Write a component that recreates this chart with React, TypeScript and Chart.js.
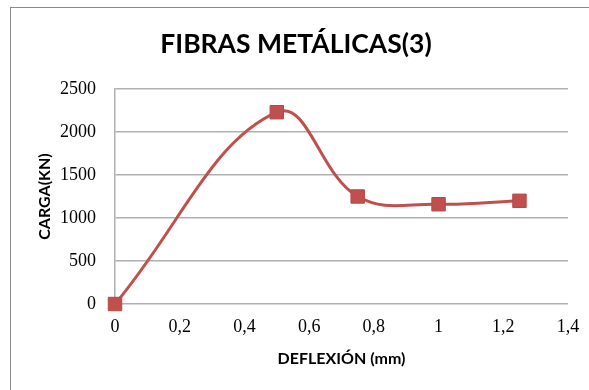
import React, { useEffect, useRef } from "react";
import { Chart, registerables } from "chart.js";

Chart.register(...registerables);

const deflexion = [0, 0.5, 0.75, 1, 1.25];
const carga = [0, 2230, 1250, 1160, 1200];
const titleText = "FIBRAS METÁLICAS(3)";
const xTitle = "DEFLEXIÓN (mm)";
const yTitle = "CARGA(KN)";

const fmt = (v: number) => parseFloat(Number(v).toFixed(2)).toString().replace(".", ",");

export default function App() {
  const ref = useRef<HTMLCanvasElement | null>(null);
  useEffect(() => {
    if (!ref.current) return;
    const chart = new Chart(ref.current, {
      type: "line",
      data: {
        datasets: [
          {
            data: deflexion.map((x, i) => ({ x, y: carga[i] })),
            borderColor: "#C0504D",
            backgroundColor: "#C0504D",
            borderWidth: 3,
            tension: 0.4,
            pointStyle: "rect",
            pointRadius: 9.5,
            pointBorderWidth: 1,
            pointBorderColor: "#B94744",
            pointBackgroundColor: "#C0504D",
            clip: false as any,
          },
        ],
      },
      options: {
        animation: false,
        responsive: false,
        layout: { padding: { left: 24, right: 21, top: 0, bottom: 0 } },
        plugins: {
          legend: { display: false },
          tooltip: { enabled: false },
          title: {
            display: true,
            text: titleText,
            color: "#000000",
            font: { family: "Lato", size: 26.5, weight: "bold" },
            padding: { top: 28.4, bottom: 28.8 },
          },
        },
        scales: {
          x: {
            type: "linear",
            min: 0,
            max: 1.4,
            afterFit: (s: any) => {
              s.height = 86;
              s.paddingLeft = 0;
              s.paddingRight = 0;
            },
            ticks: {
              stepSize: 0.2,
              callback: (v: any) => fmt(v),
              color: "#000000",
              font: { family: "Liberation Serif", size: 18 },
              padding: 12,
              maxRotation: 0,
            },
            grid: { display: false, drawTicks: false },
            border: { display: false },
            title: {
              display: true,
              text: xTitle,
              color: "#000000",
              font: { family: "Lato", size: 16, weight: "bold" },
              padding: { top: 0, bottom: 22 },
            },
          },
          y: {
            type: "linear",
            min: 0,
            max: 2500,
            afterFit: (s: any) => {
              s.width = 91;
            },
            ticks: {
              stepSize: 500,
              callback: (v: any) => fmt(v),
              color: "#000000",
              font: { family: "Liberation Serif", size: 18 },
              padding: 19,
            },
            grid: { color: "#b0b0b0", lineWidth: 1.5, drawTicks: false },
            border: { display: true, color: "#b0b0b0", width: 1.5 },
            title: {
              display: true,
              text: yTitle,
              color: "#000000",
              font: { family: "Lato", size: 16, weight: "bold" },
              padding: { top: 11.4, bottom: 0 },
            },
          },
        },
      },
    });
    return () => chart.destroy();
  }, []);

  return (
    <div style={{ position: "fixed", left: 0, top: 0, width: 589, height: 390, background: "#fff", overflow: "hidden" }}>
      <div
        style={{
          position: "absolute",
          left: 10,
          top: 7,
          width: 600,
          height: 400,
          borderLeft: "1.5px solid #8a8a8a",
          borderTop: "1.5px solid #8a8a8a",
        }}
      />
      <canvas ref={ref} width={589} height={390} style={{ position: "absolute", left: 0, top: 0 }} />
    </div>
  );
}
